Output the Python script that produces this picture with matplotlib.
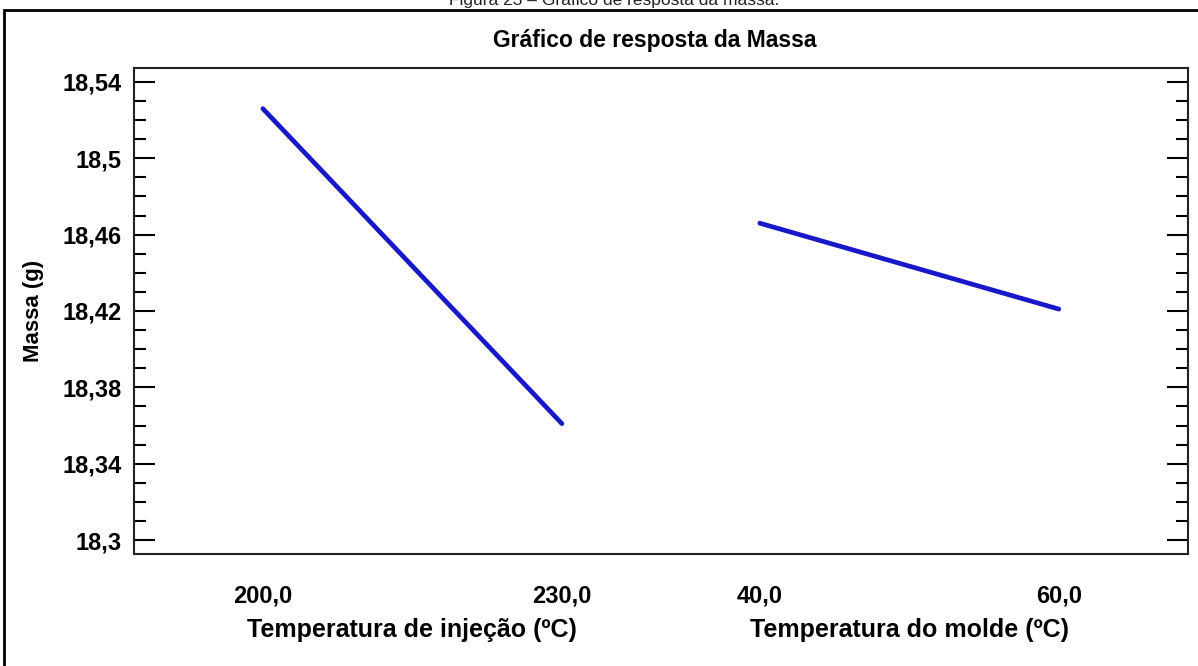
# Main effects plot for Massa (g), recreated from a Statgraphics figure.

import matplotlib
matplotlib.use("Agg")
import matplotlib.pyplot as plt
from matplotlib.patches import Rectangle
from matplotlib.ticker import MultipleLocator, FixedLocator

plt.rcParams['font.family'] = ['Liberation Sans', 'DejaVu Sans']

# data
factor_names = ["Temperatura de injeção (ºC)", "Temperatura do molde (ºC)"]
factor_levels = [["200,0", "230,0"], ["40,0", "60,0"]]
massa = [[18.526, 18.361], [18.466, 18.421]]

y_ticks = [18.30, 18.34, 18.38, 18.42, 18.46, 18.50, 18.54]
y_tick_labels = ["18,3", "18,34", "18,38", "18,42", "18,46", "18,5", "18,54"]

W, H = 1198, 666
fig = plt.figure(figsize=(W / 100, H / 100), dpi=100)
ax = fig.add_axes([134 / W, 1 - 554 / H, (1188 - 134) / W, (554 - 68) / H])

# each factor is drawn over one unit of x, blocks separated by a gap
gap = 1.662
tick_pos = []
tick_lab = []
for i, (levels, vals) in enumerate(zip(factor_levels, massa)):
    xs = [i * gap, i * gap + 1]
    ax.plot(xs, vals, color='#1818c8', lw=3.4, solid_capstyle='round')
    tick_pos += xs
    tick_lab += levels
    ax.text(i * gap + 0.5, -0.157, factor_names[i], transform=ax.get_xaxis_transform(),
            ha='center', va='center', fontsize=18, fontweight='bold')

ax.set_xlim(-0.431, 3.094)
ax.set_ylim(18.2927, 18.5473)

ax.set_xticks(tick_pos)
ax.set_xticklabels(tick_lab, fontsize=17, fontweight='bold')
ax.tick_params(axis='x', length=0, pad=22)

ax.yaxis.set_major_locator(FixedLocator(y_ticks))
ax.set_yticklabels(y_tick_labels, fontsize=17, fontweight='bold')
ax.yaxis.set_minor_locator(MultipleLocator(0.01))
ax.tick_params(axis='y', which='major', direction='in', length=15, width=1.5,
               left=True, right=True, pad=9)
ax.tick_params(axis='y', which='minor', direction='in', length=8.5, width=1.5,
               left=True, right=True)
ax.text((33 - 134) / 1054, 0.5, "Massa (g)", transform=ax.transAxes, rotation=90,
        ha='center', va='center', fontsize=16, fontweight='bold')

for s in ax.spines.values():
    s.set_linewidth(1.5)
    s.set_color('#222222')

fig.text(655 / W, 1 - 41 / H, "Gráfico de resposta da Massa", ha='center', va='center',
         fontsize=16.5, fontweight='bold')

# outer frame of the figure and clipped caption above it
fig.patches.append(Rectangle((4 / W, -0.05), 1.0, 1.05 - 10 / H,
                             transform=fig.transFigure, fill=False, lw=2, ec='black'))
fig.text(0.513, 1 - 1 / H, "Figura 23 – Gráfico de resposta da massa.", ha='center',
         va='center', fontsize=12.5, color='#222222')

fig.savefig("out.png", dpi=100)
